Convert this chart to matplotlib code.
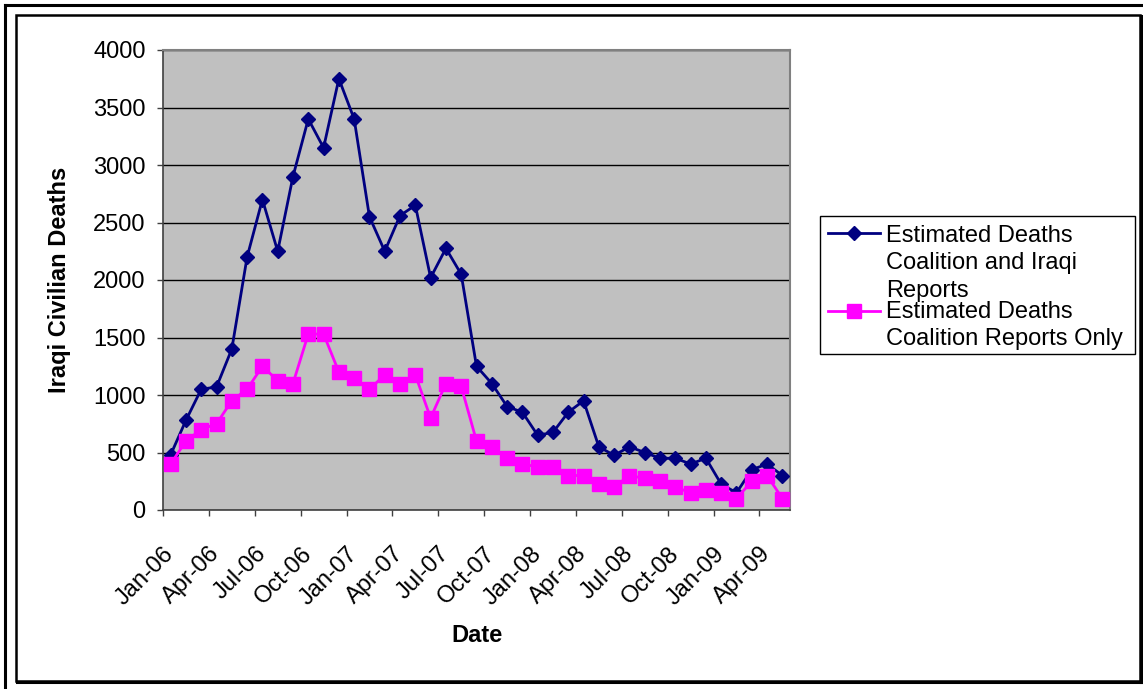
import numpy as np
import matplotlib
matplotlib.use("Agg")
import matplotlib.pyplot as plt
from matplotlib.lines import Line2D
from matplotlib.patches import Rectangle

# monthly estimates, Jan-06 .. May-09
months = [f"{m}-{y:02d}" for y in range(6, 10)
          for m in ["Jan", "Feb", "Mar", "Apr", "May", "Jun",
                    "Jul", "Aug", "Sep", "Oct", "Nov", "Dec"]][:41]

coalition_iraqi = [480, 780, 1050, 1070, 1400, 2200, 2700, 2250, 2900, 3400,
                   3150, 3750, 3400, 2550, 2250, 2560, 2650, 2020, 2275, 2050,
                   1250, 1100, 900, 850, 650, 675, 850, 950, 550, 475,
                   550, 500, 450, 450, 400, 450, 225, 150, 350, 400, 300]

coalition_only = [400, 600, 700, 750, 950, 1050, 1250, 1125, 1100, 1530,
                  1530, 1200, 1150, 1050, 1175, 1100, 1175, 800, 1100, 1075,
                  600, 550, 450, 400, 375, 375, 300, 300, 225, 200,
                  300, 275, 250, 200, 150, 175, 150, 100, 250, 300, 100]

tick_labels = ["Jan-06", "Apr-06", "Jul-06", "Oct-06", "Jan-07", "Apr-07", "Jul-07",
               "Oct-07", "Jan-08", "Apr-08", "Jul-08", "Oct-08", "Jan-09", "Apr-09"]

label_1 = "Estimated Deaths\nCoalition and Iraqi\nReports"
label_2 = "Estimated Deaths\nCoalition Reports Only"

plt.rcParams["font.family"] = ["Liberation Sans", "DejaVu Sans"]

W, H = 1143, 689
fig = plt.figure(figsize=(W / 100, H / 100), dpi=100)
fig.patch.set_facecolor("white")


def fx(px):
    return px / W


def fy(py):
    return 1 - py / H


ax = fig.add_axes([fx(163), fy(510), fx(790) - fx(163), fy(50) - fy(510)])
ax.set_facecolor("#C0C0C0")

x = np.arange(len(months))
ax.plot(x, coalition_iraqi, color="#000080", lw=2, marker="D", ms=7,
        mfc="#000080", mec="#000080", zorder=3)
ax.plot(x, coalition_only, color="#FF00FF", lw=2, marker="s", ms=10,
        mfc="#FF00FF", mec="#FF00FF", zorder=4)

ax.set_xlim(-0.5, len(months) - 0.5)
ax.set_ylim(0, 4000)
ax.set_yticks(np.arange(0, 4001, 500))
ax.yaxis.grid(True, color="black", lw=1)
ax.set_axisbelow(True)

ax.set_xticks(np.arange(-0.5, len(months), 3))
ax.set_xticklabels(tick_labels, rotation=45, ha="right", va="top",
                   rotation_mode="anchor")
ax.tick_params(axis="x", direction="out", length=4.5, width=1, pad=19,
               labelsize=17, color="#404040")
ax.tick_params(axis="y", direction="out", length=4.5, width=1, pad=8,
               labelsize=17, color="#404040")

for side in ["top", "right"]:
    ax.spines[side].set_color("#808080")
    ax.spines[side].set_linewidth(1.5)
for side in ["left", "bottom"]:
    ax.spines[side].set_color("#404040")
    ax.spines[side].set_linewidth(1.2)

ax.set_xlabel("Date", fontsize=17, fontweight="bold")
ax.set_ylabel("Iraqi Civilian Deaths", fontsize=17, fontweight="bold")
ax.xaxis.label.set_va("center")
ax.yaxis.label.set_va("center")
ax.xaxis.set_label_coords(0.5, (510 - 636) / 460)
ax.yaxis.set_label_coords((60 - 163) / 627, 0.5)

# legend drawn by hand to match the Excel layout
fig.add_artist(Rectangle((fx(820), fy(354)), fx(1135) - fx(820), fy(216) - fy(354),
                         transform=fig.transFigure, fill=True, facecolor="white",
                         edgecolor="black", lw=1))
fig.add_artist(Line2D([fx(828), fx(880)], [fy(233), fy(233)], color="#000080", lw=2,
                      transform=fig.transFigure))
fig.add_artist(Line2D([fx(854)], [fy(233)], color="#000080", marker="D", ms=7,
                      transform=fig.transFigure))
fig.add_artist(Line2D([fx(828), fx(880)], [fy(311), fy(311)], color="#FF00FF", lw=2,
                      transform=fig.transFigure))
fig.add_artist(Line2D([fx(854)], [fy(311)], color="#FF00FF", marker="s", ms=10,
                      transform=fig.transFigure))
for i, line in enumerate(label_1.split("\n")):
    fig.text(fx(886), fy(242 + 27.5 * i), line, fontsize=17, va="baseline", ha="left")
for i, line in enumerate(label_2.split("\n")):
    fig.text(fx(886), fy(318 + 27.5 * i), line, fontsize=17, va="baseline", ha="left")

# outer frames
fig.add_artist(Line2D([fx(5), fx(1143)], [fy(5), fy(5)], color="black", lw=2.2,
                      transform=fig.transFigure))
fig.add_artist(Line2D([fx(5), fx(5)], [fy(5), fy(689)], color="black", lw=2.2,
                      transform=fig.transFigure))
fig.add_artist(Rectangle((fx(16), fy(681)), fx(1140) - fx(16), fy(15) - fy(681),
                         transform=fig.transFigure, fill=False, edgecolor="black",
                         lw=1.8))
fig.add_artist(Line2D([fx(1141), fx(1141)], [fy(16), fy(682)], color="black", lw=2.2,
                      transform=fig.transFigure))
fig.add_artist(Line2D([fx(17), fx(1141)], [fy(682), fy(682)], color="black", lw=2.2,
                      transform=fig.transFigure))

fig.savefig("out.png", dpi=100)
